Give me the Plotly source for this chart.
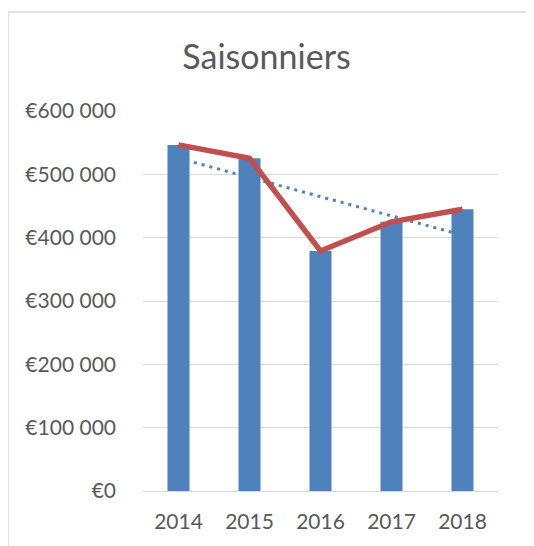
import plotly.graph_objects as go

years = ["2014", "2015", "2016", "2017", "2018"]
amounts = [546500, 525500, 379000, 425000, 445000]

# trendline endpoints
trend_years = ["2014", "2018"]
trend_amounts = [525500, 404000]

text_grey = "#595959"
grid_grey = "#D9D9D9"
font_name = "Lato"

fig = go.Figure()

# dotted trendline sits behind the bars, so it goes on the base axes
fig.add_trace(go.Scatter(x=trend_years, y=trend_amounts, mode="lines",
                         line=dict(color="#4F81BD", width=3, dash="3px,5px"),
                         xaxis="x", yaxis="y", showlegend=False))

fig.add_trace(go.Bar(x=years, y=amounts, marker=dict(color="#4F81BD", line_width=0),
                     xaxis="x2", yaxis="y2", showlegend=False))

fig.add_trace(go.Scatter(x=years, y=amounts, mode="lines",
                         line=dict(color="#C0504D", width=5.5),
                         xaxis="x2", yaxis="y2", showlegend=False))

# page has an 8px body margin, so figure pixels = page pixels - 8
# chart border, only the top and left edges show in the picture
left = (0 - 135) / 355
top = (483 - 4) / 380
fig.add_shape(type="line", xref="paper", yref="paper", x0=left, x1=1.2, y0=top, y1=top,
              line=dict(color=grid_grey, width=1.5))
fig.add_shape(type="line", xref="paper", yref="paper", x0=left, x1=left, y0=top, y1=-0.2,
              line=dict(color=grid_grey, width=1.5))

fig.update_layout(
    width=526, height=538,
    margin=dict(l=135, r=36, t=103, b=55),
    paper_bgcolor="white", plot_bgcolor="white",
    separators=", ",
    bargap=0.69,
    font=dict(family=font_name, color=text_grey, size=21),
    title=dict(text="Saisonniers", x=0.4915, xref="container", xanchor="center",
               y=1 - 49 / 538, yanchor="middle",
               font=dict(family=font_name, size=34, color=text_grey)),
    xaxis=dict(type="category", categoryorder="array", categoryarray=years, range=[-0.5, 4.5],
               showgrid=False, showline=False, zeroline=False, ticks="",
               ticklabelstandoff=16, tickfont=dict(size=21)),
    yaxis=dict(range=[0, 600000], dtick=100000, tickprefix="€", tickformat=",d",
               showgrid=True, gridcolor=grid_grey, gridwidth=1.3,
               zeroline=True, zerolinecolor=grid_grey, zerolinewidth=1.3,
               showline=False, ticks="", ticklabelstandoff=26, tickfont=dict(size=21)),
    xaxis2=dict(type="category", categoryorder="array", categoryarray=years, range=[-0.5, 4.5],
                overlaying="x", showticklabels=False, showgrid=False, zeroline=False),
    yaxis2=dict(range=[0, 600000], overlaying="y", showticklabels=False,
                showgrid=False, zeroline=False),
)

fig.write_html("out.html")
